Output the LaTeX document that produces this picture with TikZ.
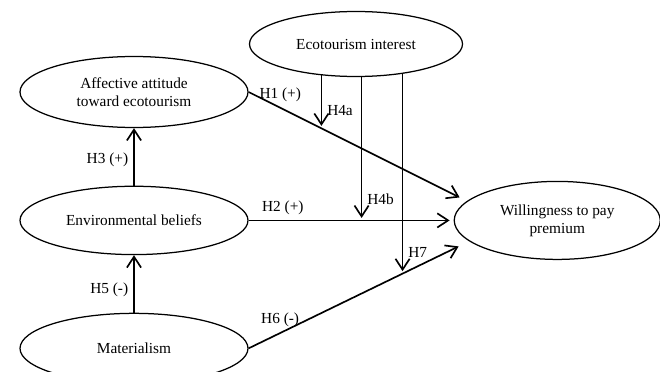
\documentclass[tikz,border=0pt]{standalone}
\usepackage{fontspec}
\setmainfont{Liberation Serif}
\usetikzlibrary{arrows.meta, positioning, shapes.geometric, backgrounds}

\begin{document}
\begin{tikzpicture}[
    x=0.6pt, y=-0.6pt,
    font=\fontsize{9.2}{10.8}\selectfont,
    >={Straight Barb[length=6.5pt, width=8.5pt]},
    node distance=34.5pt and 123pt,
    latent/.style={
        draw, ellipse, line width=0.75pt, fill=white,
        inner sep=0pt, align=center,
        minimum width=136.8pt, minimum height=41pt
    },
    arr/.style={->, line width=1pt},
    lbl/.style={inner sep=3pt},
    ]

    \useasboundingbox (0,0) rectangle (660,371);

    \node[latent, minimum height=42.6pt] (aff) at (134,92) {Affective attitude\\toward ecotourism};
    \node[latent, below=of aff] (env) {Environmental beliefs};
    \node[latent, minimum height=42pt, below=of env] (mat) {Materialism};
    \node[latent, minimum width=123.6pt, minimum height=46.8pt, right=of env] (wtp) {Willingness to pay\\premium};
    \node[latent, minimum width=127.8pt, minimum height=39pt] (eco) at (356,44) {Ecotourism interest};

    % direct effects
    \draw[arr] (aff.east) -- coordinate[pos=0.345] (m1) node[lbl, above, pos=0.15] {H1 (+)} ([shift={(6,-23)}]wtp.west);
    \draw[arr] (env.east) -- coordinate[pos=0.562] (m2) node[lbl, above, pos=0.17] {H2 (+)} ([shift={(-4,0)}]wtp.west);
    \draw[arr] (mat.east) -- coordinate[pos=0.733] (m3) node[lbl, above, pos=0.15] {H6 (-)} ([shift={(5,26)}]wtp.west);
    \draw[arr] (env) -- node[lbl, left, pos=0.45] {H3 (+)} (aff);
    \draw[arr] (mat) -- node[lbl, left, pos=0.4] {H5 (-)} (env);

    % moderation
    \begin{scope}[on background layer]
        \draw[arr, shorten >=1.5pt] (eco.center -| m1) -- node[lbl, right, pos=0.79] {H4a} (m1);
        \draw[arr, shorten >=1.5pt] (eco.center -| m2) -- node[lbl, right, pos=0.88] {H4b} (m2);
        \draw[arr, shorten >=1.5pt] (eco.center -| m3) -- node[lbl, right, pos=0.91] {H7} (m3);
    \end{scope}
\end{tikzpicture}
\end{document}
